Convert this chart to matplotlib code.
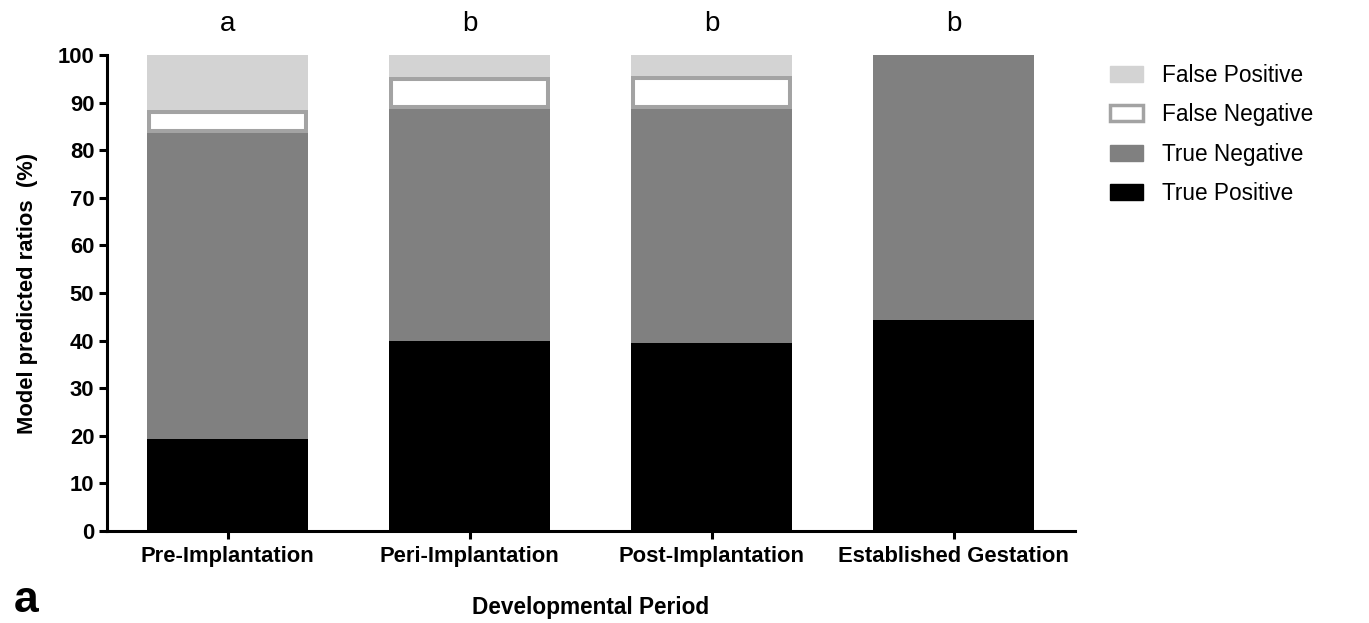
import matplotlib
matplotlib.use("Agg")
import matplotlib.pyplot as plt
from matplotlib.patches import Patch
import numpy as np

plt.rcParams['font.family'] = ['Liberation Sans', 'DejaVu Sans']

categories = ["Pre-Implantation", "Peri-Implantation", "Post-Implantation", "Established Gestation"]
true_positive = [19.3, 39.9, 39.5, 44.3]
true_negative = [64.3, 48.8, 49.2, 55.7]
false_negative = [4.9, 6.7, 6.8, 0.0]
false_positive = [11.5, 4.6, 4.5, 0.0]
group_letters = ["a", "b", "b", "b"]

c_fp = "#d3d3d3"
c_fn_edge = "#a3a3a3"
c_tn = "#808080"
c_tp = "#000000"

fig = plt.figure(figsize=(13.69, 6.23), dpi=100)
ax = fig.add_axes([0.078, 0.1477, 0.707, 0.764])

x = np.arange(len(categories))
w = 0.664
tp = np.array(true_positive)
tn = np.array(true_negative)
fn = np.array(false_negative)
fp = np.array(false_positive)

ax.bar(x, tp, w, color=c_tp, linewidth=0)
ax.bar(x, tn, w, bottom=tp, color=c_tn, linewidth=0)
fn_bars = ax.bar(x, fn, w, bottom=tp + tn, facecolor="white", edgecolor=c_fn_edge, linewidth=5.8)
for p, v in zip(fn_bars, fn):
    p.set_clip_path(p)
    if v == 0:
        p.set_visible(False)
ax.bar(x, fp, w, bottom=tp + tn + fn, color=c_fp, linewidth=0)

ax.set_xlim(-0.5, 3.5)
ax.set_ylim(0, 100)
ax.set_yticks(np.arange(0, 101, 10))
ax.set_xticks(x)
ax.set_xticklabels(categories, fontsize=15.8, fontweight="bold")
for lab in ax.get_yticklabels():
    lab.set_fontsize(15.8)
    lab.set_fontweight("bold")
ax.tick_params(axis="both", width=2.2, length=6, direction="out")
ax.tick_params(axis="x", pad=5)
ax.tick_params(axis="y", pad=3)
for s in ["top", "right"]:
    ax.spines[s].set_visible(False)
for s in ["left", "bottom"]:
    ax.spines[s].set_linewidth(2.2)

ax.set_ylabel("Model predicted ratios  (%)", fontsize=15.8, fontweight="bold", labelpad=14)
ax.set_xlabel("Developmental Period", fontsize=16.3, fontweight="bold", labelpad=21)

for xi, letter in zip(x, group_letters):
    ax.text(xi, 103.8, letter, ha="center", va="bottom", fontsize=20, transform=ax.transData, clip_on=False)

handles = [
    Patch(facecolor=c_fp, edgecolor=c_fp, label="False Positive"),
    Patch(facecolor="white", edgecolor=c_fn_edge, linewidth=2.5, label="False Negative"),
    Patch(facecolor=c_tn, edgecolor=c_tn, label="True Negative"),
    Patch(facecolor=c_tp, edgecolor=c_tp, label="True Positive"),
]
fig.legend(handles=handles, loc="upper left", bbox_to_anchor=(0.796, 0.93), frameon=False,
           fontsize=16.3, handlelength=1.45, handleheight=0.7, handletextpad=0.85, labelspacing=0.72)

fig.text(0.010, 0.004, "a", fontsize=32, fontweight="bold", ha="left", va="bottom")

fig.savefig("out.png", dpi=100)
